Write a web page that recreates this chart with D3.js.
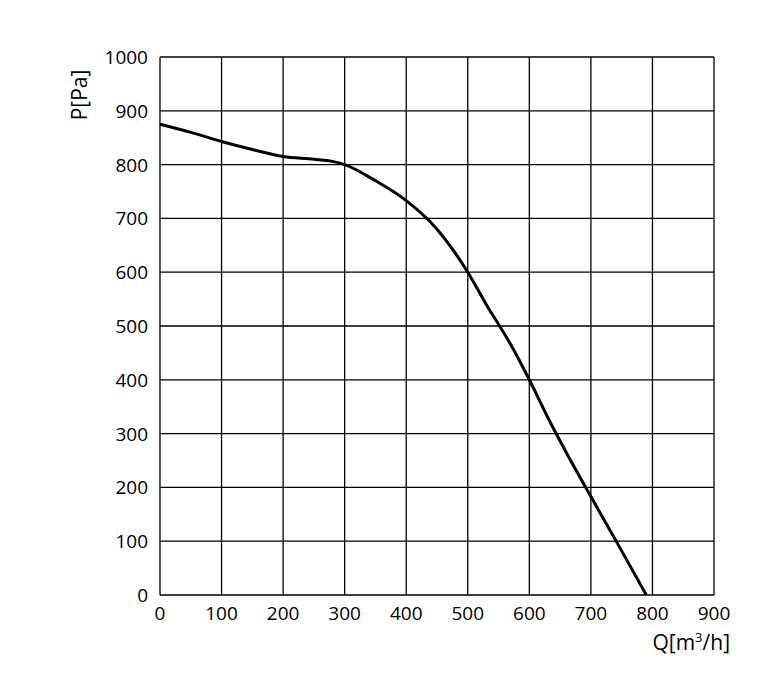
<!DOCTYPE html>
<html>
<head>
<meta charset="utf-8">
<script src="https://cdn.jsdelivr.net/npm/d3@7"></script>
<style>
  body { margin: 0; background: #fff; }
  text { font-family: "Open Sans", "Liberation Sans", sans-serif; fill: #000; }
</style>
</head>
<body>
<svg id="chart" width="768" height="695"></svg>
<script>
// pressure curve
const flow = [0, 50, 100, 150, 200, 250, 280, 300, 350, 400, 450, 480, 500, 530, 570, 600, 630, 660, 700, 750, 790];
const pressure = [875, 860, 843, 828, 815, 810, 806, 800, 770, 733, 680, 635, 600, 540, 465, 400, 330, 265, 183, 82, 0];
const xTicks = [0, 100, 200, 300, 400, 500, 600, 700, 800, 900];
const yTicks = [0, 100, 200, 300, 400, 500, 600, 700, 800, 900, 1000];

const svg = d3.select('#chart');
const x = d3.scaleLinear().domain([0, 900]).range([160, 714]);
const y = d3.scaleLinear().domain([0, 1000]).range([595, 57]);

const grid = svg.append('g').attr('stroke', '#000').attr('stroke-width', 1.3);
grid.selectAll('line.v').data(xTicks).enter().append('line')
  .attr('x1', (d) => x(d)).attr('x2', (d) => x(d))
  .attr('y1', y(0)).attr('y2', y(1000));
grid.selectAll('line.h').data(yTicks).enter().append('line')
  .attr('y1', (d) => y(d)).attr('y2', (d) => y(d))
  .attr('x1', x(0)).attr('x2', x(900));

svg.append('g').selectAll('text').data(xTicks).enter().append('text')
  .attr('x', (d) => x(d)).attr('y', 620)
  .attr('text-anchor', 'middle').attr('font-size', 19)
  .text((d) => d);

svg.append('g').selectAll('text').data(yTicks).enter().append('text')
  .attr('x', 148).attr('y', (d) => y(d) + 7)
  .attr('text-anchor', 'end').attr('font-size', 19)
  .text((d) => d);

svg.append('text')
  .attr('transform', 'translate(87,95) rotate(-90)')
  .attr('text-anchor', 'middle').attr('font-size', 21)
  .text('P[Pa]');

const q = svg.append('text').attr('x', 730).attr('y', 650)
  .attr('text-anchor', 'end').attr('font-size', 21);
q.append('tspan').text('Q[m');
q.append('tspan').attr('font-size', 13).attr('dy', -8).text('3');
q.append('tspan').attr('dy', 8).text('/h]');

const line = d3.line()
  .x((d, i) => x(flow[i]))
  .y((d) => y(d))
  .curve(d3.curveMonotoneX);
svg.append('path').datum(pressure)
  .attr('d', line)
  .attr('fill', 'none').attr('stroke', '#000').attr('stroke-width', 3);
</script>
</body>
</html>
